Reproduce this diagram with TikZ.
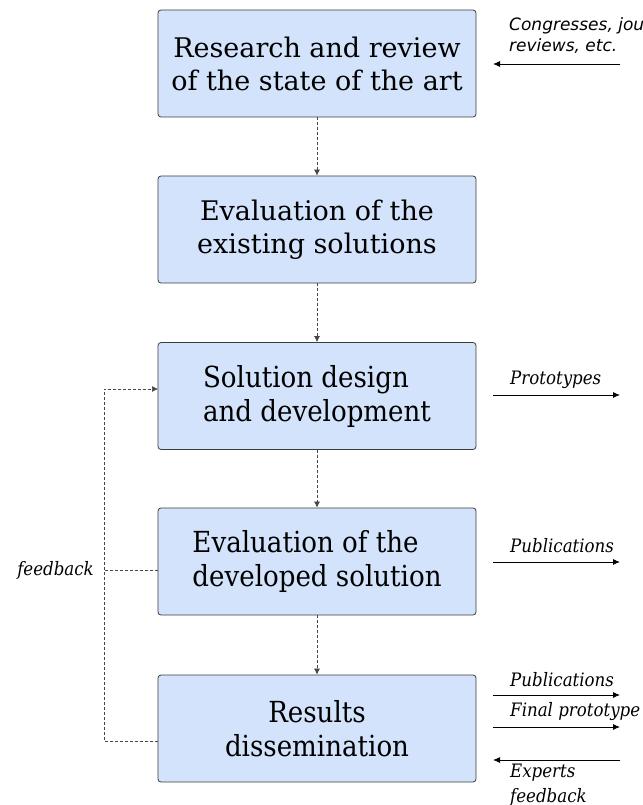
\documentclass[tikz,border=0pt]{standalone}
\usepackage{fontspec}
\usetikzlibrary{arrows.meta}
\setmainfont{DejaVu Serif}
\IfFontExistsTF{DejaVu Serif Condensed}
  {\newfontfamily\condfont{DejaVu Serif Condensed}}
  {\newfontfamily\condfont[FakeStretch=0.85]{DejaVu Serif}}
\newfontfamily\sansfont{DejaVu Sans}
\definecolor{boxfill}{RGB}{212,227,252}
\definecolor{boxline}{RGB}{60,60,60}
\definecolor{dashline}{RGB}{70,70,70}

\begin{document}
\begin{tikzpicture}[x=1pt,y=-1pt,
  stage/.style={draw=boxline, fill=boxfill, rounded corners=3pt, line width=0.8pt,
    minimum width=318pt, minimum height=107pt, inner sep=0pt, align=center,
    font=\fontsize{27}{33}\selectfont},
  condstage/.style={stage, font=\condfont\fontsize{29}{34}\selectfont},
  flow/.style={draw=dashline, line width=0.7pt, dash pattern=on 3pt off 2pt,
    -{Latex[length=6pt,width=6pt]}},
  loopline/.style={draw=dashline, line width=0.7pt, dash pattern=on 3pt off 2pt},
  ioarrow/.style={draw=black, line width=0.9pt, -{Latex[length=7pt,width=6pt]}},
  note/.style={font=\condfont\itshape\fontsize{18.5}{25}\selectfont, anchor=base west, inner sep=0pt},
  sansnote/.style={font=\sansfont\itshape\fontsize{17}{21}\selectfont, anchor=base west,
    inner sep=0pt, align=left}]
\useasboundingbox (0,0) rectangle (642,805);

% the five stages
\node[stage] (s1) at (317,63.5) {Research and review\\of the state of the art};
\node[stage] (s2) at (317,229.5) {Evaluation of the\\existing solutions};
\node[condstage, align=left] (s3) at (317,396) {Solution design\\and development};
\node[condstage, align=left] (s4) at (317,561.5) {Evaluation of the\\developed solution};
\node[condstage] (s5) at (317,728.5) {Results\\dissemination};

% main flow
\draw[flow] (s1) -- (s2);
\draw[flow] (s2) -- (s3);
\draw[flow] (s3) -- (s4);
\draw[flow] (s4) -- (s5);

% feedback loop
\coordinate (fbtop) at (104,389);
\coordinate (fbbot) at (104,741);
\coordinate (s3in) at (158,389);
\coordinate (s5out) at (158,741);
\coordinate (s4out) at (158,570);
\draw[loopline, -{Latex[length=6pt,width=6pt]}] (s5out) -- (fbbot) -- (fbtop) -- (s3in);
\draw[loopline] (s4out) -- (fbtop |- s4out);
\node[note, anchor=base east] (fblabel) at (94,575) {feedback};

% inputs and outputs (multi-line labels are placed by their last baseline)
\node[sansnote] (cong) at (509,52) {Congresses, journals,\\reviews, etc.};
\coordinate (c1a) at (620,64); \coordinate (c1b) at (493,64);
\draw[ioarrow] (c1a) -- (c1b);

\node[note] (proto) at (510,384) {Prototypes};
\coordinate (p1a) at (493,395); \coordinate (p1b) at (620,395);
\draw[ioarrow] (p1a) -- (p1b);

\node[note] (pub1) at (510,552) {Publications};
\coordinate (p2a) at (493,562); \coordinate (p2b) at (620,562);
\draw[ioarrow] (p2a) -- (p2b);

\node[note] (pub2) at (510,686) {Publications};
\coordinate (p3a) at (493,695); \coordinate (p3b) at (620,695);
\draw[ioarrow] (p3a) -- (p3b);

\node[note] (final) at (510,716) {Final prototype};
\coordinate (p4a) at (493,727); \coordinate (p4b) at (620,727);
\draw[ioarrow] (p4a) -- (p4b);

\coordinate (e1a) at (620,760); \coordinate (e1b) at (493,760);
\draw[ioarrow] (e1a) -- (e1b);
\node[note, align=left] (experts) at (510,802) {Experts\\feedback};
\end{tikzpicture}
\end{document}
